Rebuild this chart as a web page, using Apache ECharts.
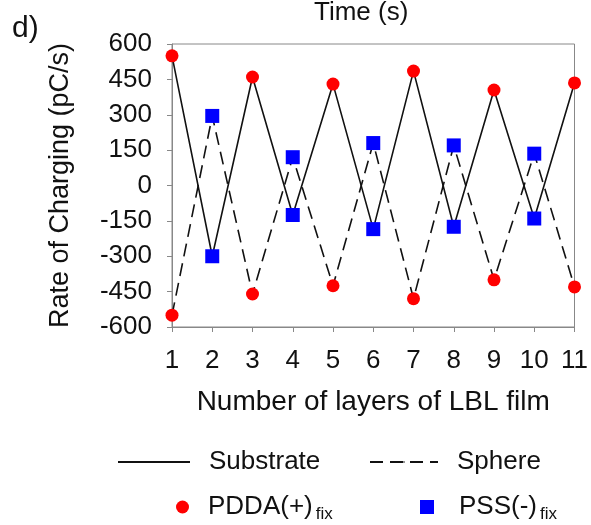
<!DOCTYPE html>
<html>
<head>
<meta charset="utf-8">
<script src="https://cdn.jsdelivr.net/npm/echarts@6/dist/echarts.min.js"></script>
<style>
  html, body { margin: 0; padding: 0; background: #fff; }
  #main { width: 591px; height: 525px; }
</style>
</head>
<body>
<div id="main"></div>
<script>
// layer number on x axis
var layers = [1, 2, 3, 4, 5, 6, 7, 8, 9, 10, 11];
// rate of charging, pC/s
var substrate = [550, -300, 460, -125, 430, -185, 485, -175, 405, -140, 435];
var sphere = [-550, 295, -460, 120, -425, 180, -480, 170, -400, 135, -430];
var yTicks = [-600, -450, -300, -150, 0, 150, 300, 450, 600];

var FONT = 'Liberation Sans, Arial, sans-serif';

// odd layers are PDDA (+), even layers are PSS (-)
var pdda = [];
var pss = [];
for (var i = 0; i < layers.length; i++) {
  var target = (layers[i] % 2 === 1) ? pdda : pss;
  target.push([layers[i], substrate[i]]);
  target.push([layers[i], sphere[i]]);
}

var chart = echarts.init(document.getElementById('main'), null, { renderer: 'canvas' });

function oneLegend(name, left, top, w, h, gap) {
  return {
    data: [name],
    left: left,
    top: top,
    itemWidth: w,
    itemHeight: h,
    selectedMode: false,
    padding: 0,
    textStyle: {
      fontFamily: FONT, fontSize: 26, color: '#111',
      rich: {
        m: { fontFamily: FONT, fontSize: 26, color: '#111', padding: [0, 0, 0, gap] },
        s: { fontFamily: FONT, fontSize: 17, color: '#111', padding: [14, 0, 0, 3] }
      }
    },
    formatter: function (n) {
      if (n === 'PDDA') return '{m|PDDA(+)}{s|fix}';
      if (n === 'PSS') return '{m|PSS(-)}{s|fix}';
      return '{m|' + n + '}';
    }
  };
}

var option = {
  backgroundColor: '#fff',
  animation: false,
  title: {
    text: 'Time (s)',
    left: 314,
    top: 0,
    padding: 0,
    textStyle: { fontFamily: FONT, fontSize: 26, fontWeight: 'normal', color: '#111' }
  },
  graphic: [{
    type: 'text',
    left: 12,
    top: 14,
    style: { text: 'd)', font: '30px ' + FONT, fill: '#111' }
  }],
  legend: [
    oneLegend('Substrate', 117, 449, 72, 2, 14),
    oneLegend('Sphere', 369, 449, 68, 2, 14),
    oneLegend('PDDA', 176, 494, 13, 13, 14),
    oneLegend('PSS', 420, 494, 14, 14, 20)
  ],
  grid: { left: 172, right: 16, top: 44, bottom: 198, show: true, borderColor: '#888', borderWidth: 1 },
  xAxis: {
    type: 'value',
    min: 1,
    max: 11,
    interval: 1,
    name: 'Number of layers of LBL film',
    nameLocation: 'middle',
    nameGap: 61,
    nameTextStyle: { fontFamily: FONT, fontSize: 28, color: '#111' },
    axisLine: { onZero: false, lineStyle: { color: '#888', width: 1 } },
    axisTick: { inside: false, length: 5, lineStyle: { color: '#888' } },
    axisLabel: { margin: 21, fontFamily: FONT, fontSize: 26, color: '#111' },
    splitLine: { show: false }
  },
  yAxis: {
    type: 'value',
    min: -600,
    max: 600,
    interval: 150,
    name: 'Rate of Charging (pC/s)',
    nameLocation: 'middle',
    nameGap: 98,
    nameTextStyle: { fontFamily: FONT, fontSize: 27, color: '#111' },
    axisLine: { show: true, onZero: false, lineStyle: { color: '#888', width: 1 } },
    axisTick: { show: true, inside: false, length: 5, lineStyle: { color: '#888' } },
    axisLabel: {
      margin: 20, fontFamily: FONT, fontSize: 26, color: '#111',
      customValues: yTicks
    },
    splitLine: { show: false }
  },
  series: [
    {
      name: 'Substrate',
      type: 'line',
      data: layers.map(function (x, k) { return [x, substrate[k]]; }),
      symbol: 'none',
      lineStyle: { color: '#111', width: 1.6 },
      itemStyle: { color: '#111' },
      z: 2
    },
    {
      name: 'Sphere',
      type: 'line',
      data: layers.map(function (x, k) { return [x, sphere[k]]; }),
      symbol: 'none',
      lineStyle: { color: '#111', width: 1.6, type: [13, 7] },
      itemStyle: { color: '#111' },
      z: 2
    },
    {
      name: 'PDDA',
      type: 'scatter',
      data: pdda,
      symbol: 'circle',
      symbolSize: 13,
      itemStyle: { color: '#ff0000', opacity: 1 },
      z: 3
    },
    {
      name: 'PSS',
      type: 'scatter',
      data: pss,
      symbol: 'rect',
      symbolSize: 14,
      itemStyle: { color: '#0000ff', opacity: 1 },
      z: 3
    }
  ]
};

chart.setOption(option);
</script>
</body>
</html>
